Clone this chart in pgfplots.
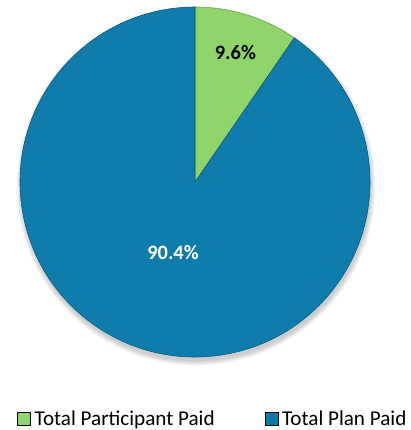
\documentclass[border=0pt]{standalone}
\usepackage{pgfplots}
\pgfplotsset{compat=1.18}
\usepackage{pgfplotstable}
\usepackage{fontspec}
\setmainfont{Carlito}
\definecolor{pgreen}{RGB}{143,212,106}
\definecolor{pgreendk}{RGB}{100,170,70}
\definecolor{pblue}{RGB}{14,125,172}
\definecolor{pbluedk}{RGB}{8,90,130}

\pgfplotstableread[col sep=comma]{
label,value
Total Participant Paid,9.6
Total Plan Paid,90.4
}\piedata
\pgfplotstablegetelem{0}{value}\of\piedata \edef\vA{\pgfplotsretval}
\pgfplotstablegetelem{1}{value}\of\piedata \edef\vB{\pgfplotsretval}
\pgfmathsetmacro\aA{90-3.6*\vA}
\pgfmathsetmacro\aB{\aA-3.6*\vB}
\pgfmathsetmacro\mA{90-1.8*\vA}
\pgfmathsetmacro\mB{\aA-1.8*\vB}

\begin{document}
\begin{tikzpicture}
\begin{axis}[name=ax,
  hide axis, scale only axis, width=411bp, height=430bp,
  xmin=0, xmax=411, ymin=0, ymax=430, clip=false,
  legend image code/.code={\fill[#1] (0bp,-6.5bp) rectangle (13bp,6.5bp);},
  legend style={at={(axis cs:17,11)}, anchor=west, draw=none, fill=none,
    legend columns=2, inner sep=0pt, font=\fontsize{21.2}{25}\selectfont,
    /tikz/every odd column/.append style={column sep=2bp},
    /tikz/every even column/.append style={column sep=48bp}},
]
% soft shadow
\pgfplotsinvokeforeach{0,1,2,3,4,5}{
  \fill[black, opacity=0.035] (axis cs:196,244) circle[radius={175bp+#1*0.9bp}];
}
% slices
\fill[pgreen, draw=pgreendk, line width=0.6pt] (axis cs:195,248) -- ([shift={(90:175bp)}]axis cs:195,248)
  arc[start angle=90, end angle=\aA, radius=175bp] -- cycle;
\fill[pblue, draw=pbluedk, line width=0.6pt] (axis cs:195,248) -- ([shift={(\aA:175bp)}]axis cs:195,248)
  arc[start angle=\aA, end angle=\aB, radius=175bp] -- cycle;
% labels
\node[font=\fontsize{20.5}{24}\selectfont\bfseries, text=black]
  at ([shift={(\mA:136bp)}]axis cs:195,248) {\pgfmathprintnumber[assume math mode=true,fixed,precision=1,fixed zerofill]{\vA}\%};
\node[font=\fontsize{20.5}{24}\selectfont\bfseries, text=white]
  at ([shift={(\mB:74bp)}]axis cs:195,248) {\pgfmathprintnumber[assume math mode=true,fixed,precision=1,fixed zerofill]{\vB}\%};
\addlegendimage{fill=pgreen}
\addlegendentry{Total Participant Paid}
\addlegendimage{fill=pblue}
\addlegendentry{Total Plan Paid}
\end{axis}
\pgfresetboundingbox
\path (ax.south west) rectangle (ax.north east);
\end{tikzpicture}
\end{document}
